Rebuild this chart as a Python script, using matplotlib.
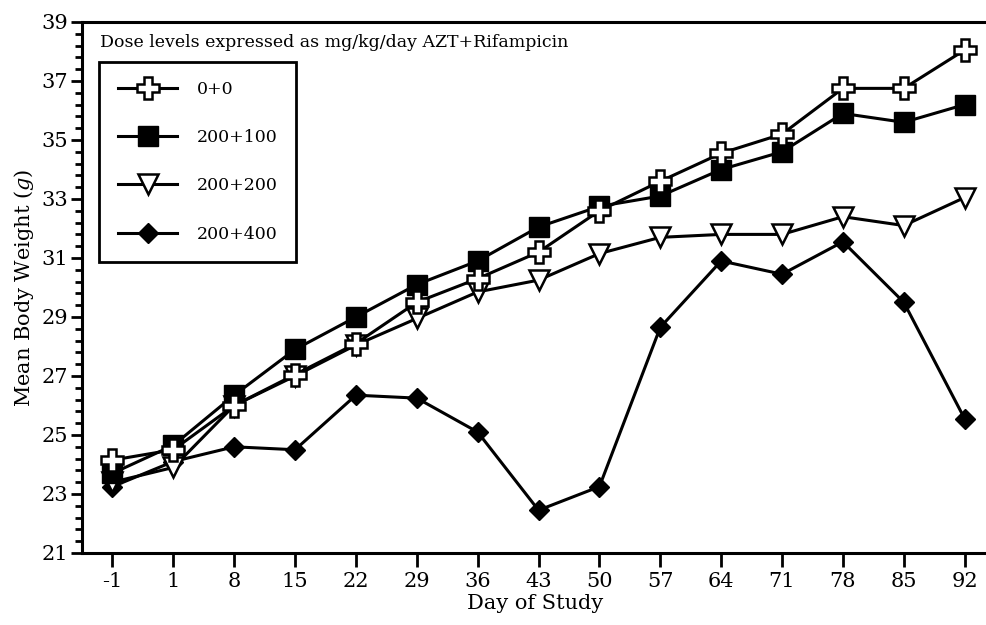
import matplotlib
matplotlib.use("Agg")
import matplotlib.pyplot as plt
import numpy as np
from matplotlib.ticker import FixedLocator

days = ["-1", "1", "8", "15", "22", "29", "36", "43", "50", "57", "64", "71", "78", "85", "92"]
g_0_0 = [24.15, 24.5, 26.0, 27.05, 28.1, 29.5, 30.3, 31.2, 32.6, 33.6, 34.55, 35.2, 36.75, 36.75, 38.05]
g_200_100 = [23.7, 24.65, 26.35, 27.9, 29.0, 30.1, 30.9, 32.05, 32.75, 33.1, 34.0, 34.6, 35.9, 35.6, 36.2]
g_200_200 = [23.4, 23.9, 26.0, 27.0, 28.05, 28.95, 29.85, 30.25, 31.15, 31.7, 31.8, 31.8, 32.4, 32.1, 33.05]
g_200_400 = [23.25, 24.1, 24.6, 24.5, 26.35, 26.25, 25.1, 22.45, 23.25, 28.65, 30.9, 30.45, 31.55, 29.5, 25.55]
labels = ["0+0", "200+100", "200+200", "200+400"]
y_major = [21, 23, 25, 27, 29, 31, 33, 35, 37, 39]

plt.rcParams['font.family'] = 'DejaVu Serif'
plt.rcParams['mathtext.fontset'] = 'custom'
plt.rcParams['mathtext.it'] = 'DejaVu Serif:italic'

fig = plt.figure(figsize=(9.87, 6.25), dpi=100)
ax = fig.add_axes([82/987, 72/625, 907/987, 531/625])

x = list(range(len(days)))
lw = 2.2
ax.plot(x, g_0_0, color='black', lw=lw, marker='P', ms=16, mfc='white', mec='black', mew=1.8, label=labels[0], zorder=5)
ax.plot(x, g_200_100, color='black', lw=lw, marker='s', ms=14, mfc='black', mec='black', label=labels[1], zorder=4)
ax.plot(x, g_200_200, color='black', lw=lw, marker='v', ms=15, mfc='white', mec='black', mew=1.8, label=labels[2], zorder=3)
ax.plot(x, g_200_400, color='black', lw=lw, marker='D', ms=10.5, mfc='black', mec='black', label=labels[3], zorder=2)

ax.set_xlim(-0.5, 14.4)
ax.set_ylim(21, 39)
ax.set_xticks(x)
ax.set_xticklabels(days)
ax.set_yticks(y_major)
minor = [v for v in np.arange(21, 39.01, 0.4) if min(abs(v - m) for m in y_major) > 0.05]
ax.yaxis.set_minor_locator(FixedLocator(minor))
ax.tick_params(axis='both', which='major', direction='out', width=2, labelsize=15, color='black')
ax.tick_params(axis='x', which='major', length=10, pad=4)
ax.tick_params(axis='y', which='major', length=8, pad=2)
ax.tick_params(axis='y', which='minor', direction='out', length=5, width=2)
for s in ['left', 'bottom', 'top']:
    ax.spines[s].set_linewidth(2.2)
ax.spines['right'].set_visible(False)

ax.set_xlabel("Day of Study", fontsize=15, labelpad=2)
ax.set_ylabel("Mean Body Weight ($\\it{g}$)", fontsize=15, labelpad=4)

ax.text(0.02, 0.962, "Dose levels expressed as mg/kg/day AZT+Rifampicin", transform=ax.transAxes,
        fontsize=12.5, va='center', ha='left')

leg = ax.legend(loc='upper left', bbox_to_anchor=(0.019, 0.925), fontsize=12.5, frameon=True,
                fancybox=False, edgecolor='black', handlelength=3.4, labelspacing=1.8,
                borderpad=1.1, handletextpad=1.1, borderaxespad=0)
leg.get_frame().set_linewidth(2)
leg.get_frame().set_alpha(1)

fig.savefig("out.png", dpi=100)
